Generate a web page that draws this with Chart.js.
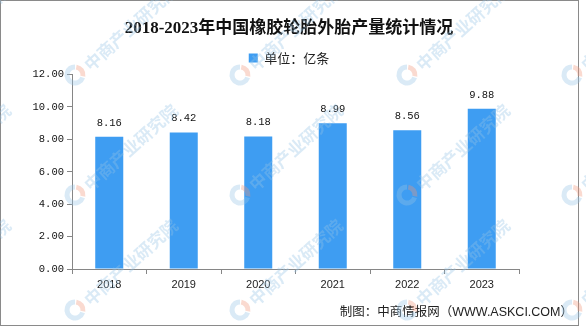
<!DOCTYPE html>
<html>
<head>
<meta charset="utf-8">
<script src="https://cdn.jsdelivr.net/npm/chart.js@4/dist/chart.umd.min.js"></script>
<style>
  html, body { margin: 0; padding: 0; background: #fff; }
  #wrap { width: 586px; height: 327px; }
</style>
</head>
<body>
<div id="wrap"><canvas id="c" width="586" height="327"></canvas></div>
<script>
// Tyre outer casing output, 2018-2023 (unit: 100 million pieces)
const years = ['2018', '2019', '2020', '2021', '2022', '2023'];
const output = [8.16, 8.42, 8.18, 8.99, 8.56, 9.88];
const seriesName = '单位：亿条';
const chartTitle = '2018-2023年中国橡胶轮胎外胎产量统计情况';
const sourceNote = '制图：中商情报网（WWW.ASKCI.COM）';

const BAR = 'rgb(62,157,242)';
const AXIS = '#868686';
const MONO = '"Liberation Mono", "DejaVu Sans Mono", monospace';
const CJK = '"Noto Sans CJK SC", sans-serif';

// Frame around the whole figure plus the source note
const framePlugin = {
  id: 'frame',
  beforeDraw(chart) {
    const ctx = chart.ctx;
    ctx.save();
    ctx.fillStyle = '#fff';
    ctx.fillRect(0, 0, chart.width, chart.height);
    ctx.restore();
  },
  afterDraw(chart) {
    const ctx = chart.ctx;
    ctx.save();
    ctx.strokeStyle = '#8a8a8a';
    ctx.lineWidth = 1;
    ctx.strokeRect(0.5, 0.5, 578, 325);
    ctx.font = '12.5px "Liberation Sans", ' + CJK;
    ctx.fillStyle = '#222';
    ctx.textAlign = 'right';
    ctx.textBaseline = 'middle';
    ctx.fillText(sourceNote, 573, 313);
    ctx.restore();
  }
};

// Value labels above each bar, positioned from the bar elements
const valueLabels = {
  id: 'valueLabels',
  afterDatasetsDraw(chart) {
    const ctx = chart.ctx;
    const meta = chart.getDatasetMeta(0);
    const data = chart.data.datasets[0].data;
    ctx.save();
    ctx.font = '10.5px ' + MONO;
    ctx.fillStyle = '#111';
    ctx.textAlign = 'center';
    ctx.textBaseline = 'middle';
    meta.data.forEach((bar, i) => {
      ctx.fillText(data[i].toFixed(2), bar.x, bar.y - 14);
    });
    ctx.restore();
  }
};

// Faint publisher watermark repeated across the figure
const watermark = {
  id: 'watermark',
  afterDraw(chart) {
    const ctx = chart.ctx;
    const cols = [-92, 75, 240, 407, 572];
    const rows = [-42, 75, 195, 310];
    ctx.save();
    rows.forEach(y => cols.forEach(x => {
      ctx.save();
      ctx.translate(x, y);
      ctx.globalAlpha = 0.35;
      // logo ring
      ctx.lineWidth = 5;
      ctx.strokeStyle = 'rgb(150,195,228)';
      ctx.beginPath();
      ctx.arc(0, 0, 8, Math.PI * 0.1, Math.PI * 1.5);
      ctx.stroke();
      ctx.strokeStyle = 'rgb(240,150,120)';
      ctx.beginPath();
      ctx.arc(0, 0, 8, Math.PI * 1.55, Math.PI * 2.05);
      ctx.stroke();
      // text
      ctx.rotate(-42 * Math.PI / 180);
      ctx.font = 'bold 17px ' + CJK;
      ctx.fillStyle = 'rgb(150,195,228)';
      ctx.textBaseline = 'middle';
      ctx.textAlign = 'left';
      ctx.fillText('中商产业研究院', 14, 2);
      ctx.restore();
    }));
    ctx.restore();
  }
};

new Chart(document.getElementById('c'), {
  type: 'bar',
  data: {
    labels: years,
    datasets: [{
      label: seriesName,
      data: output,
      backgroundColor: BAR,
      borderWidth: 0,
      barPercentage: 0.376,
      categoryPercentage: 1
    }]
  },
  options: {
    responsive: false,
    animation: false,
    events: [],
    layout: { padding: { left: 0, right: 8, top: 0, bottom: 38 } },
    plugins: {
      title: {
        display: true,
        text: chartTitle,
        color: '#111',
        font: { family: '"Liberation Serif", ' + CJK, size: 17, weight: 'bold', lineHeight: 1.2 },
        padding: { top: 18, bottom: 6.6 }
      },
      legend: {
        display: true,
        labels: {
          boxWidth: 9,
          boxHeight: 9,
          padding: 6.5,
          color: '#222',
          font: { family: CJK, size: 13 }
        }
      },
      tooltip: { enabled: false }
    },
    scales: {
      x: {
        offset: true,
        grid: { display: true, drawOnChartArea: false, offset: true, tickLength: 5, color: AXIS },
        border: { display: true, color: AXIS },
        ticks: {
          padding: 4,
          color: '#222',
          font: { family: '"Liberation Sans", sans-serif', size: 11 }
        },
        afterFit(s) { s.height = 20; }
      },
      y: {
        min: 0,
        max: 12,
        grid: { display: true, drawOnChartArea: false, tickLength: 5, color: AXIS },
        border: { display: true, color: AXIS },
        ticks: {
          stepSize: 2,
          padding: 3,
          color: '#111',
          font: { family: MONO, size: 10.5 },
          callback: v => Number(v).toFixed(2)
        },
        afterFit(s) { s.width = 72; }
      },
      spacer: {
        type: 'linear',
        position: 'right',
        display: true,
        grid: { display: false },
        border: { display: false },
        ticks: { display: false },
        afterFit(s) { s.width = 59; }
      }
    }
  },
  plugins: [framePlugin, valueLabels, watermark]
});
</script>
</body>
</html>
